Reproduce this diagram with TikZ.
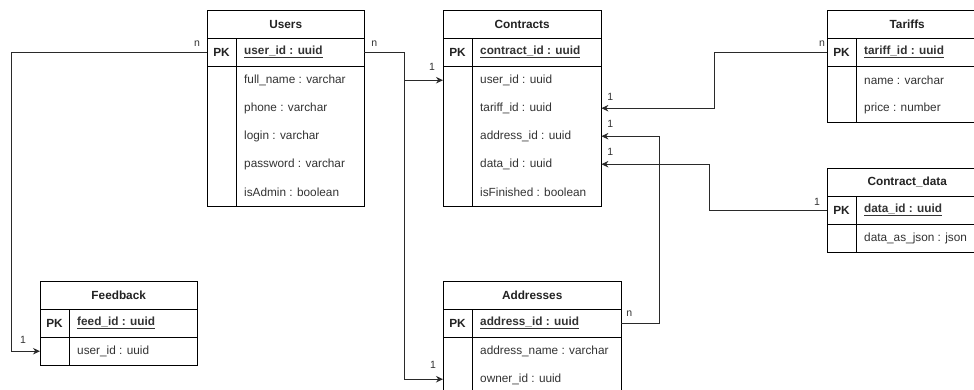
\documentclass[tikz,border=0pt]{standalone}
\usepackage{fontspec}
\setmainfont{Liberation Sans}
\usetikzlibrary{calc,arrows.meta}

\definecolor{ink}{HTML}{222222}
\definecolor{wire}{HTML}{2A2A2A}
\definecolor{txt}{HTML}{333333}

\tikzset{
  x=1pt, y=-1pt,
  tbl/.style={draw=black, line width=1pt},
  hdr/.style={minimum height=28pt, inner sep=0pt, font=\fontsize{11.8}{14}\selectfont\bfseries, text=ink},
  rowbox/.style={minimum height=28pt, inner sep=0pt},
  pklabel/.style={inner sep=0pt, font=\fontsize{11.8}{14}\selectfont\bfseries, text=ink},
  fieldtxt/.style={anchor=west, inner sep=0pt, font=\fontsize{11.8}{14}\selectfont, text=txt},
  link/.style={draw=wire, line width=1pt},
  tolink/.style={link, -{Stealth[length=7pt,width=6.5pt]}},
  card/.style={inner sep=0pt, font=\fontsize{10.5}{12}\selectfont, text=txt}
}

% #1 name, #2 x, #3 y, #4 width, #5 number of fields, #6 title, #7 key, #8 fields
\newcommand\erdtable[8]{%
  \node[hdr, minimum width=#4pt, anchor=north west] (#1-h) at (#2,#3) {#6};
  \node[rowbox, minimum width=#4pt, anchor=north west] (#1-pk) at (#2,#3+28) {};
  \node[pklabel] (#1-pkl) at ($(#1-pk.west)+(14.5,0)$) {PK};
  \node[fieldtxt] (#1-key) at ($(#1-pk.west)+(37,0)$) {\textbf{\underline{#7}}};
  \foreach \f [count=\i] in {#8} {
    \node[rowbox, minimum width=#4pt, anchor=north west] (#1-\i) at (#2,{#3+28+\i*28}) {};
    \node[fieldtxt] (#1-t\i) at ($(#1-\i.west)+(37,0)$) {\f};
  }
  \draw[tbl] (#1-h.north west) rectangle ++(#4,{56+#5*28});
  \draw[tbl] (#1-h.south west) -- (#1-h.south east);
  \draw[tbl] (#1-pk.south west) -- (#1-pk.south east);
  \draw[tbl] ($(#1-pk.north west)+(29.5,0)$) -- ++(0,{28+#5*28});
}

\begin{document}
\begin{tikzpicture}
\useasboundingbox (0,0) rectangle (974,389);
\clip (0,0) rectangle (974,389);
\fill[white] (0,0) rectangle (974,389);

\erdtable{u}{207}{10}{157}{5}{Users}{user\_id : uuid}%
  {full\_name : varchar, phone : varchar, login : varchar, password : varchar, isAdmin : boolean}
\erdtable{c}{443}{10}{158}{5}{Contracts}{contract\_id : uuid}%
  {user\_id : uuid, tariff\_id : uuid, address\_id : uuid, data\_id : uuid, isFinished : boolean}
\erdtable{t}{827}{10}{160}{2}{Tariffs}{tariff\_id : uuid}%
  {name : varchar, price : number}
\erdtable{d}{827}{168}{160}{1}{Contract\_data}{data\_id : uuid}%
  {data\_as\_json : json}
\erdtable{f}{40}{281}{157}{1}{Feedback}{feed\_id : uuid}%
  {user\_id : uuid}
\erdtable{a}{443}{281}{178}{2}{Addresses}{address\_id : uuid}%
  {address\_name : varchar, owner\_id : uuid}

% routing columns of the connectors
\coordinate (ubus) at (404,0);
\coordinate (fbus) at (11,0);
\coordinate (tbus) at (714,0);
\coordinate (dbus) at (709,0);
\coordinate (abus) at (659,0);

% relations
\draw[tolink] (u-pk.east) -- (u-pk.east -| ubus) |- (c-1.west);
\draw[tolink] (u-pk.east) -- (u-pk.east -| ubus) |- (a-2.west);
\draw[tolink] (u-pk.west) -- (u-pk.west -| fbus) |- (f-1.west);
\draw[tolink] (t-pk.west) -- (t-pk.west -| tbus) |- (c-2.east);
\draw[tolink] (a-pk.east) -- (a-pk.east -| abus) |- (c-3.east);
\draw[tolink] (d-pk.west) -- (d-pk.west -| dbus) |- (c-4.east);

% cardinalities
\node[card] (k1) at ($(u-pk.west)+(-10,-9)$) {n};
\node[card] (k2) at ($(u-pk.east)+(10,-9)$) {n};
\node[card] (k3) at ($(c-1.west)+(-11,-13)$) {1};
\node[card] (k4) at ($(c-2.east)+(9,-11)$) {1};
\node[card] (k5) at ($(c-3.east)+(9,-12)$) {1};
\node[card] (k6) at ($(c-4.east)+(9,-12)$) {1};
\node[card] (k7) at ($(t-pk.west)+(-5,-9)$) {n};
\node[card] (k8) at ($(d-pk.west)+(-10,-8)$) {1};
\node[card] (k9) at ($(f-1.west)+(-17,-11)$) {1};
\node[card] (k10) at ($(a-pk.east)+(8,-10)$) {n};
\node[card] (k11) at ($(a-2.west)+(-10,-14)$) {1};
\end{tikzpicture}
\end{document}
